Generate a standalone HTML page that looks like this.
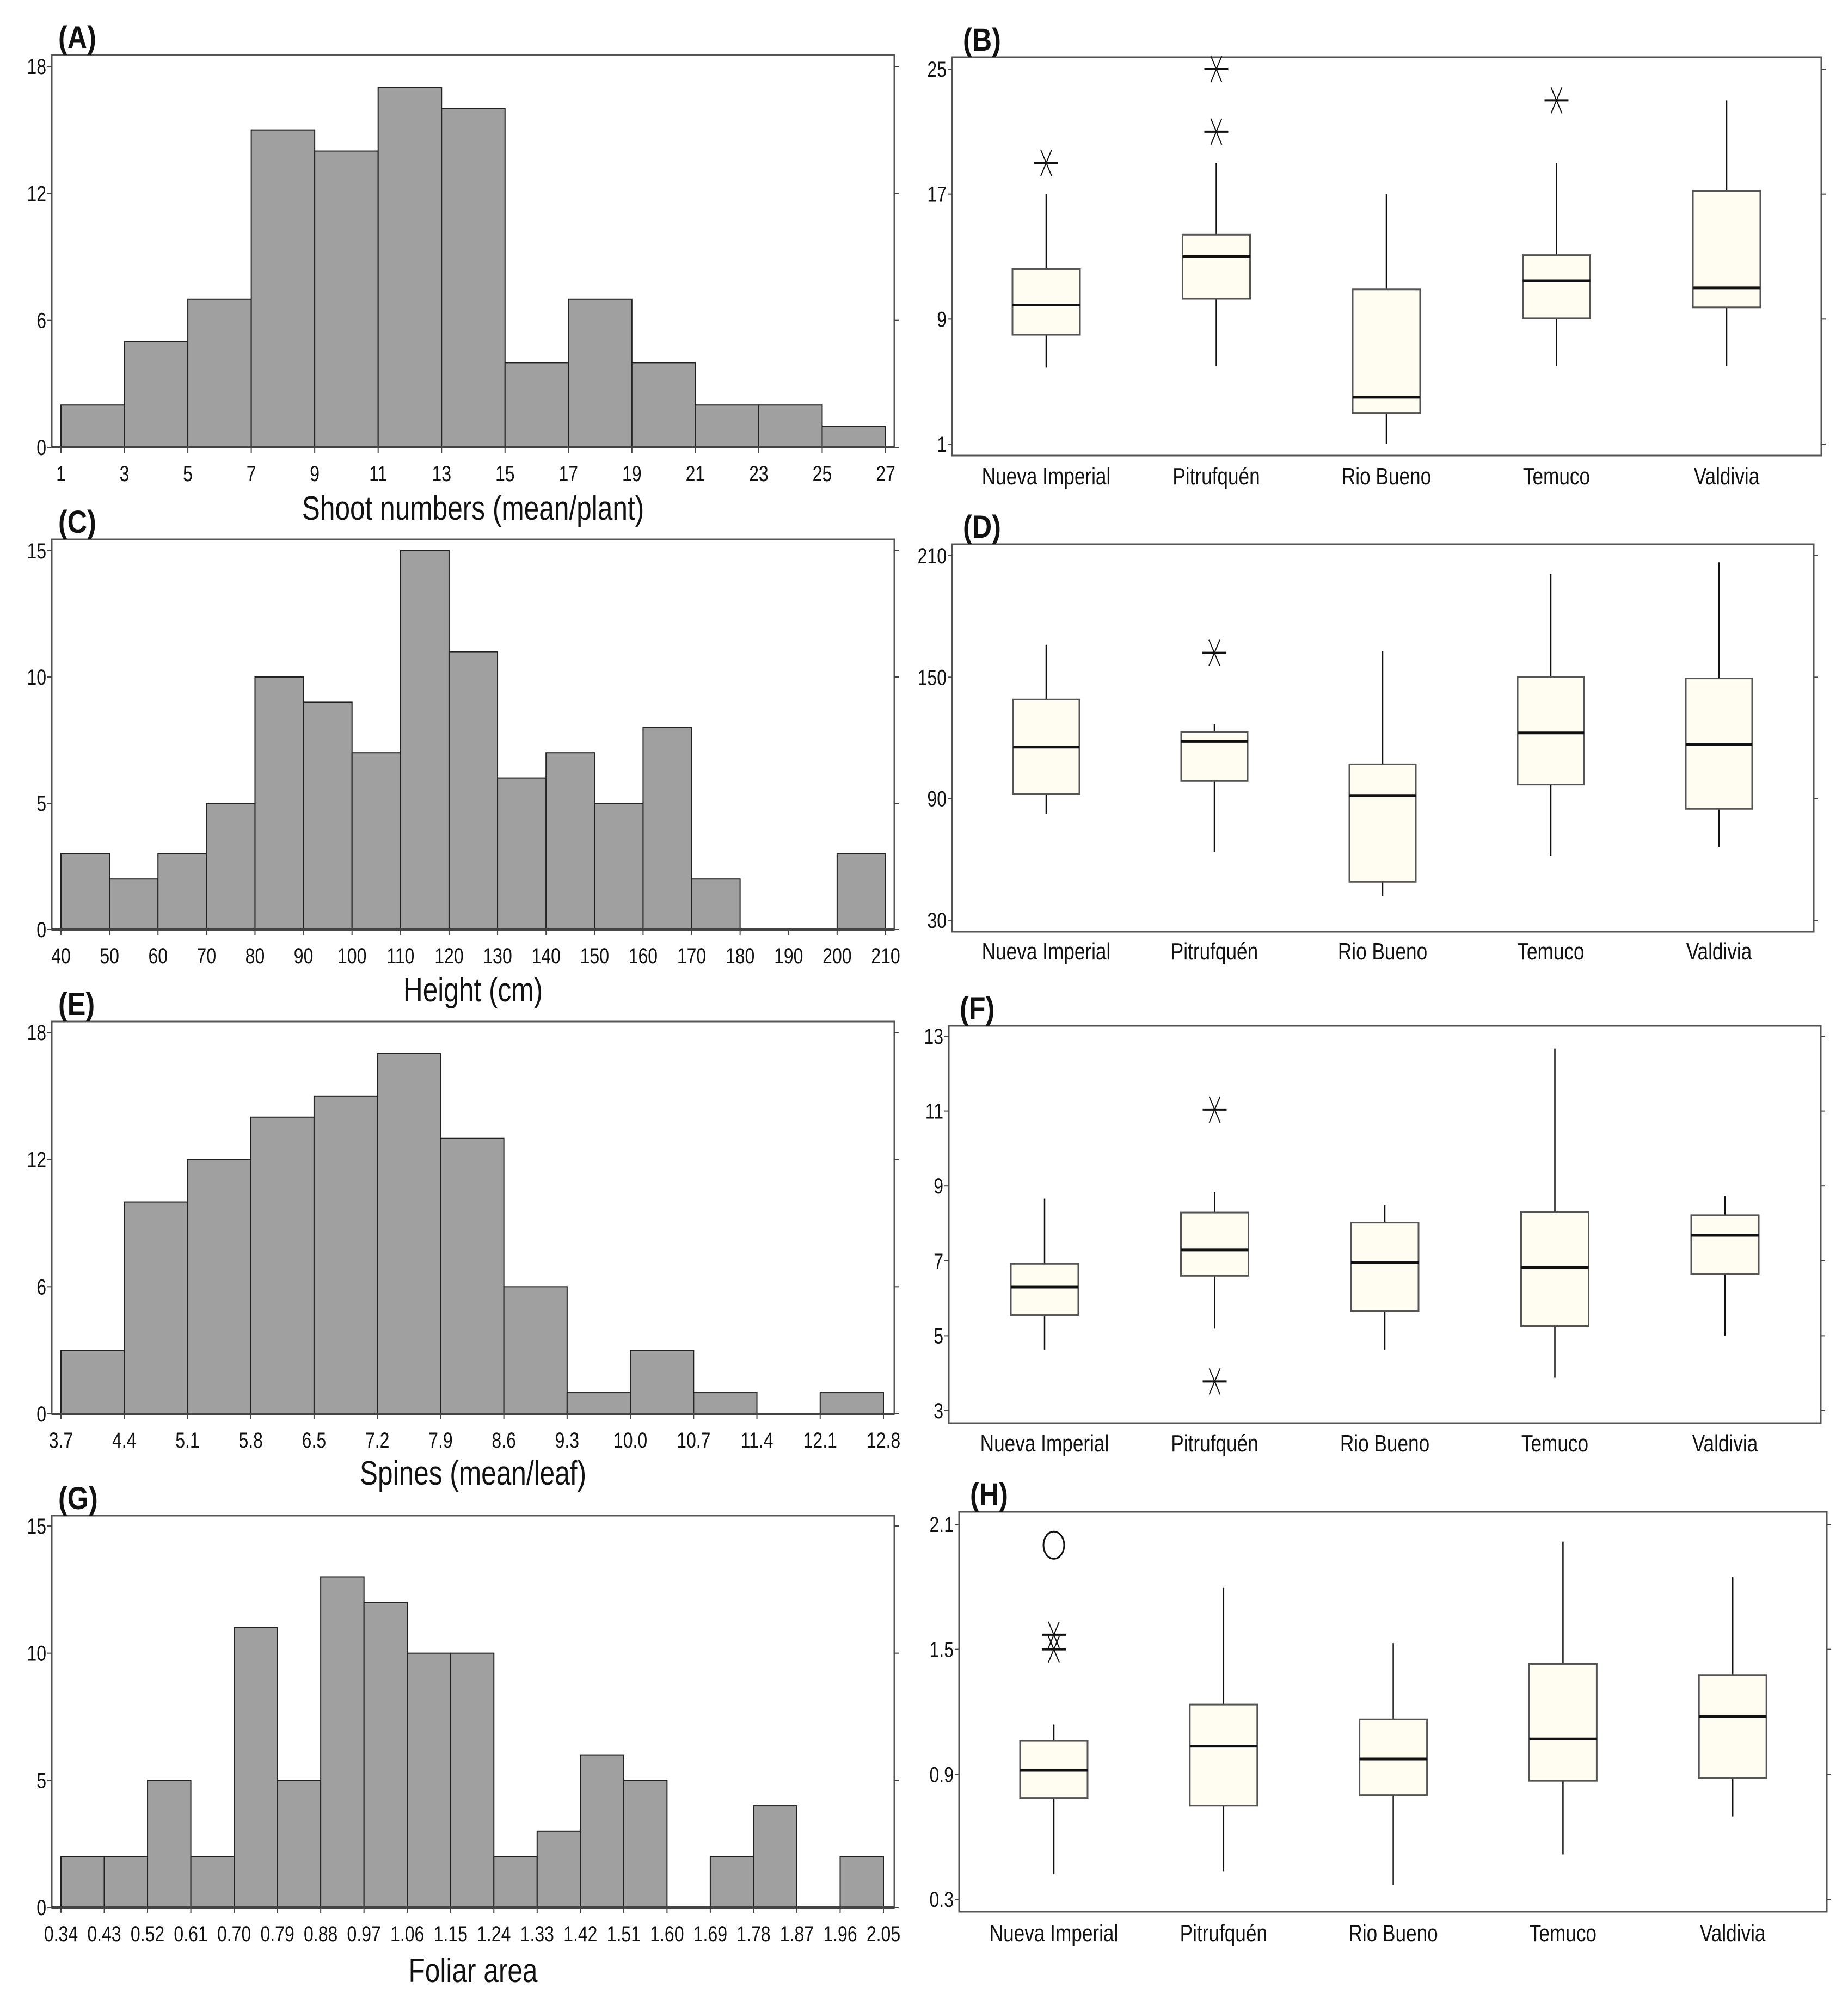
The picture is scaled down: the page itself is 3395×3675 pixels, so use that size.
<!DOCTYPE html>
<html><head><meta charset="utf-8"><style>
html,body{margin:0;padding:0;background:#fff}
svg{display:block}
text{font-family:"Liberation Sans",sans-serif;fill:#111}
.pl{font-family:"Liberation Sans",sans-serif;font-weight:bold;font-size:56px}
</style></head><body>
<svg id="fig" width="3395" height="3675" viewBox="0 0 3395 3675" xmlns="http://www.w3.org/2000/svg"></svg>
<script>
// ---------- data ----------
const histA_edges = [1,3,5,7,9,11,13,15,17,19,21,23,25,27];
const histA_counts = [2,5,7,15,14,17,16,4,7,4,2,2,1];
const histA_yticks = [0,6,12,18];
const histC_edges = [40,50,60,70,80,90,100,110,120,130,140,150,160,170,180,190,200,210];
const histC_counts = [3,2,3,5,10,9,7,15,11,6,7,5,8,2,0,0,3];
const histC_yticks = [0,5,10,15];
const histE_edges = ["3.7","4.4","5.1","5.8","6.5","7.2","7.9","8.6","9.3","10.0","10.7","11.4","12.1","12.8"];
const histE_counts = [3,10,12,14,15,17,13,6,1,3,1,0,1];
const histE_yticks = [0,6,12,18];
const histG_edges = ["0.34","0.43","0.52","0.61","0.70","0.79","0.88","0.97","1.06","1.15","1.24","1.33","1.42","1.51","1.60","1.69","1.78","1.87","1.96","2.05"];
const histG_counts = [2,2,5,2,11,5,13,12,10,10,2,3,6,5,0,2,4,0,2];
const histG_yticks = [0,5,10,15];

const sites = ["Nueva Imperial","Pitrufquén","Rio Bueno","Temuco","Valdivia"];
// each: [lower whisker, Q1, median, Q3, upper whisker]
const boxB = [[5.9,8.0,9.9,12.2,17],[6,10.3,13,14.4,19],[1,3.0,4.0,10.9,17],[6,9.05,11.45,13.1,19],[6,9.75,11,17.2,23]];
const outB = [[19],[25,21],[],[23],[]];
const boxB_yticks = [1,9,17,25];
const boxD = [[82.6,92.2,115.5,139,166],[63.7,98.7,118.3,122.9,127],[42,49,91.6,107,163],[61.8,97,122.5,150,201],[66,85,116.8,149.4,206.7]];
const outD = [[],[162],[],[],[]];
const boxD_yticks = [30,90,150,210];
const boxF = [[4.63,5.55,6.3,6.92,8.66],[5.19,6.6,7.29,8.29,8.83],[4.63,5.66,6.96,8.02,8.48],[3.88,5.26,6.82,8.3,12.67],[5.0,6.65,7.68,8.22,8.73]];
const outF = [[],[11.04,3.78],[],[],[]];
const boxF_yticks = [3,5,7,9,11,13];
const boxH = [[0.42,0.787,0.919,1.06,1.14],[0.435,0.75,1.035,1.235,1.795],[0.368,0.80,0.974,1.164,1.53],[0.516,0.869,1.07,1.43,2.017],[0.698,0.882,1.177,1.377,1.847]];
const outH = [[1.57,1.5],[],[],[],[]];
const circH = [[2.0],[],[],[],[]];
const boxH_yticks = [0.3,0.9,1.5,2.1];

// ---------- drawing ----------
const NS="http://www.w3.org/2000/svg";
const svg=document.getElementById('fig');
function el(tag,attrs,parent){const e=document.createElementNS(NS,tag);for(const k in attrs)e.setAttribute(k,attrs[k]);(parent||svg).appendChild(e);return e;}
function txt(s,x,y,size,anchor,parent,cls){
  const t=el('text',{x:0,y:0,'font-size':size,'text-anchor':anchor||'middle'},parent);
  if(cls){t.setAttribute('class',cls);t.setAttribute('transform','translate('+x+','+y+') scale(0.9,1.05)');}
  else t.setAttribute('transform','translate('+x+','+y+') scale(0.8,1)');
  t.textContent=s;return t;}

function hist(cfg,edges,counts,yticks){
  const g=el('g',{});
  
  
  const n=edges.length-1, ymax=yticks[yticks.length-1];
  const sx=i=>cfg.x0+(cfg.x1-cfg.x0)*i/n;
  const sy=v=>cfg.base-(cfg.base-cfg.ytop)*v/ymax;
  el('rect',{x:cfg.fl,y:cfg.ft,width:cfg.fr-cfg.fl,height:cfg.base-cfg.ft,fill:'none',stroke:'#555','stroke-width':3},g);
  const lab=txt(cfg.label,cfg.fl+12,cfg.ft-12,56,'start',g,'pl');
  
  
  counts.forEach((c,i)=>{
    if(c<=0)return;
    const r=el('rect',{x:sx(i),y:sy(c),width:sx(i+1)-sx(i),height:cfg.base-sy(c),fill:'#a0a0a0',stroke:'#222','stroke-width':2},g);
    
    
  });
  el('line',{x1:cfg.fl,x2:cfg.fr,y1:cfg.base,y2:cfg.base,stroke:'#444','stroke-width':4},g);
  yticks.forEach(v=>{
    const y=sy(v);
    el('line',{x1:cfg.fl-8,x2:cfg.fl,y1:y,y2:y,stroke:'#444','stroke-width':2},g);
    el('line',{x1:cfg.fr,x2:cfg.fr+8,y1:y,y2:y,stroke:'#444','stroke-width':2},g);
    const t=txt(String(v),cfg.fl-10,y+14,40,'end',g);
    
    
  });
  edges.forEach((e,i)=>{
    const x=sx(i);
    el('line',{x1:x,x2:x,y1:cfg.base,y2:cfg.base+10,stroke:'#444','stroke-width':2},g);
    const t=txt(String(e),x,cfg.base+62,40,'middle',g);
    
    
  });
  const tt=txt(cfg.title,(cfg.fl+cfg.fr)/2,cfg.titleY,62,'middle',g);
  
  
}

function star(g,x,y){
  el('line',{x1:x-22,x2:x+22,y1:y,y2:y,stroke:'#111','stroke-width':4},g);
  el('line',{x1:x-10,x2:x+10,y1:y-24,y2:y+24,stroke:'#111','stroke-width':2},g);
  el('line',{x1:x+10,x2:x-10,y1:y-24,y2:y+24,stroke:'#111','stroke-width':2},g);
}

function box(cfg,data,outs,yticks,circs){
  const g=el('g',{});
  
  
  const y0=yticks[0],y1=yticks[yticks.length-1];
  const sy=v=>cfg.yb-(cfg.yb-cfg.yt)*(v-y0)/(y1-y0);
  const sx=i=>cfg.c0+cfg.dc*i;
  el('rect',{x:cfg.fl,y:cfg.ft,width:cfg.fr-cfg.fl,height:cfg.fb-cfg.ft,fill:'none',stroke:'#555','stroke-width':3},g);
  const lab=txt(cfg.label,cfg.fl+20,cfg.ft-12,56,'start',g,'pl');
  
  
  yticks.forEach(v=>{
    const y=sy(v);
    el('line',{x1:cfg.fl-8,x2:cfg.fl,y1:y,y2:y,stroke:'#444','stroke-width':2},g);
    el('line',{x1:cfg.fr,x2:cfg.fr+8,y1:y,y2:y,stroke:'#444','stroke-width':2},g);
    const t=txt(String(v),cfg.fl-10,y+14,40,'end',g);
    
    
  });
  const hw=cfg.bw/2;
  data.forEach((d,i)=>{
    const x=sx(i);
    const w=el('line',{x1:x,x2:x,y1:sy(d[0]),y2:sy(d[4]),stroke:'#111','stroke-width':2.5},g);
    
    
    const r=el('rect',{x:x-hw,y:sy(d[3]),width:cfg.bw,height:sy(d[1])-sy(d[3]),fill:'#fffcf2',stroke:'#555','stroke-width':3},g);
    
    
    const m=el('line',{x1:x-hw,x2:x+hw,y1:sy(d[2]),y2:sy(d[2]),stroke:'#111','stroke-width':5},g);
    
    
    (outs[i]||[]).forEach(v=>star(g,x,sy(v)));
    if(circs)(circs[i]||[]).forEach(v=>{
      const c=el('ellipse',{cx:x,cy:sy(v),rx:19,ry:25,fill:'none',stroke:'#111','stroke-width':3},g);
      
      
    });
    const t=txt(sites[i],x,cfg.labY+2,44,'middle',g);
    
    
  });
}

hist({name:'histogram-a',label:'(A)',fl:95,fr:1643,ft:101,base:822,ytop:122,x0:112,x1:1627,titleY:955,title:'Shoot numbers (mean/plant)'},histA_edges,histA_counts,histA_yticks);
hist({name:'histogram-c',label:'(C)',fl:95,fr:1643,ft:991,base:1708,ytop:1012,x0:112,x1:1627,titleY:1840,title:'Height (cm)'},histC_edges,histC_counts,histC_yticks);
hist({name:'histogram-e',label:'(E)',fl:95,fr:1643,ft:1877,base:2598,ytop:1897,x0:112,x1:1623,titleY:2728,title:'Spines (mean/leaf)'},histE_edges,histE_counts,histE_yticks);
hist({name:'histogram-g',label:'(G)',fl:95,fr:1643,ft:2785,base:3505,ytop:2804,x0:112,x1:1623,titleY:3642,title:'Foliar area'},histG_edges,histG_counts,histG_yticks);

box({name:'boxplot-b',label:'(B)',fl:1749,fr:3346,ft:105,fb:837,yt:127,yb:816,c0:1922,dc:312.5,bw:124,labY:888},boxB,outB,boxB_yticks);
box({name:'boxplot-d',label:'(D)',fl:1749,fr:3332,ft:1000,fb:1712,yt:1021,yb:1691,c0:1922,dc:309,bw:122,labY:1761},boxD,outD,boxD_yticks);
box({name:'boxplot-f',label:'(F)',fl:1743,fr:3345,ft:1885,fb:2615,yt:1904,yb:2592,c0:1919,dc:312.5,bw:124,labY:2665},boxF,outF,boxF_yticks);
box({name:'boxplot-h',label:'(H)',fl:1762,fr:3356,ft:2778,fb:3513,yt:2801,yb:3490,c0:1936,dc:311.8,bw:124,labY:3565},boxH,outH,boxH_yticks,circH);
</script>
</body></html>
